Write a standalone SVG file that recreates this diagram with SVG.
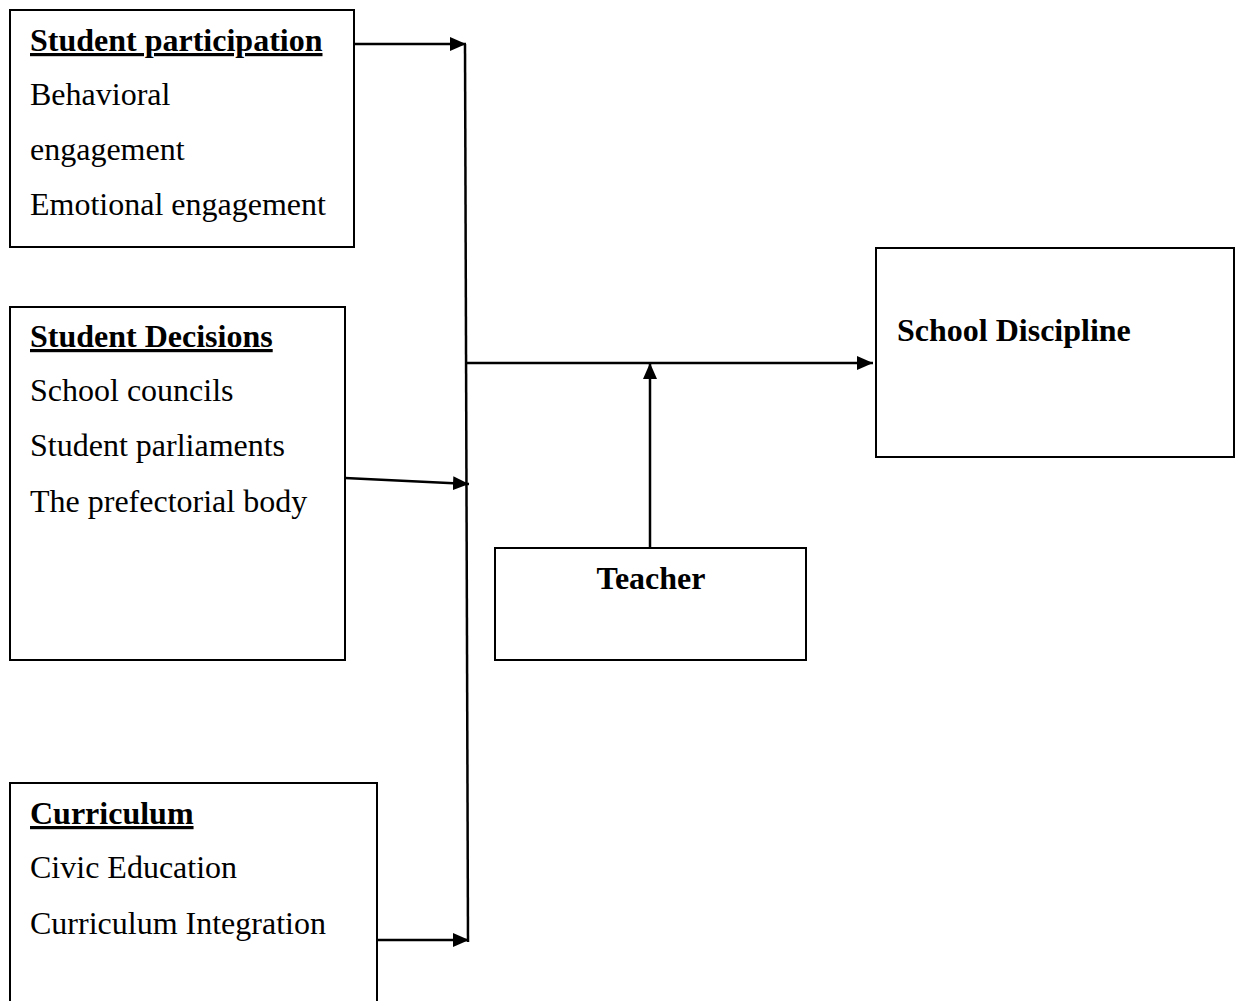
<svg xmlns="http://www.w3.org/2000/svg" width="1238" height="1001" viewBox="0 0 1238 1001">
<style>
.box{fill:#fff;stroke:#000;stroke-width:2}
.t{font-family:"Liberation Serif","Times New Roman",serif;font-size:32px;fill:#000}
.h{font-weight:bold;text-decoration:underline}
.b{font-weight:bold}
.c{stroke:#000;stroke-width:2.5;fill:none}
</style>
<defs>
<marker id="ah" markerWidth="16" markerHeight="14" refX="16" refY="7" orient="auto" markerUnits="userSpaceOnUse">
<path d="M0,0 L16,7 L0,14 Z" fill="#000"/>
</marker>
</defs>
<rect width="1238" height="1001" fill="#fff"/>
<g id="student-participation">
<rect class="box" x="10" y="10" width="344" height="237"/>
<text class="t h" x="30" y="51">Student participation</text>
<text class="t" x="30" y="105">Behavioral</text>
<text class="t" x="30" y="160">engagement</text>
<text class="t" x="30" y="215">Emotional engagement</text>
</g>
<g id="student-decisions">
<rect class="box" x="10" y="307" width="335" height="353"/>
<text class="t h" x="30" y="347">Student Decisions</text>
<text class="t" x="30" y="401">School councils</text>
<text class="t" x="30" y="456">Student parliaments</text>
<text class="t" x="30" y="512">The prefectorial body</text>
</g>
<g id="curriculum">
<rect class="box" x="10" y="783" width="367" height="230"/>
<text class="t h" x="30" y="824">Curriculum</text>
<text class="t" x="30" y="878">Civic Education</text>
<text class="t" x="30" y="934">Curriculum Integration</text>
</g>
<g id="school-discipline">
<rect class="box" x="876" y="248" width="358" height="209"/>
<text class="t b" x="897" y="341">School Discipline</text>
</g>
<g id="teacher">
<rect class="box" x="495" y="548" width="311" height="112"/>
<text class="t b" x="651" y="589" text-anchor="middle">Teacher</text>
</g>
<g id="connectors">
<line class="c" x1="354" y1="44" x2="466" y2="44" marker-end="url(#ah)"/>
<line class="c" x1="465" y1="44" x2="468" y2="942"/>
<line class="c" x1="345" y1="478" x2="469" y2="484" marker-end="url(#ah)"/>
<line class="c" x1="377" y1="940" x2="469" y2="940" marker-end="url(#ah)"/>
<line class="c" x1="465" y1="363" x2="873" y2="363" marker-end="url(#ah)"/>
<line class="c" x1="650" y1="548" x2="650" y2="363" marker-end="url(#ah)"/>
</g>
</svg>
